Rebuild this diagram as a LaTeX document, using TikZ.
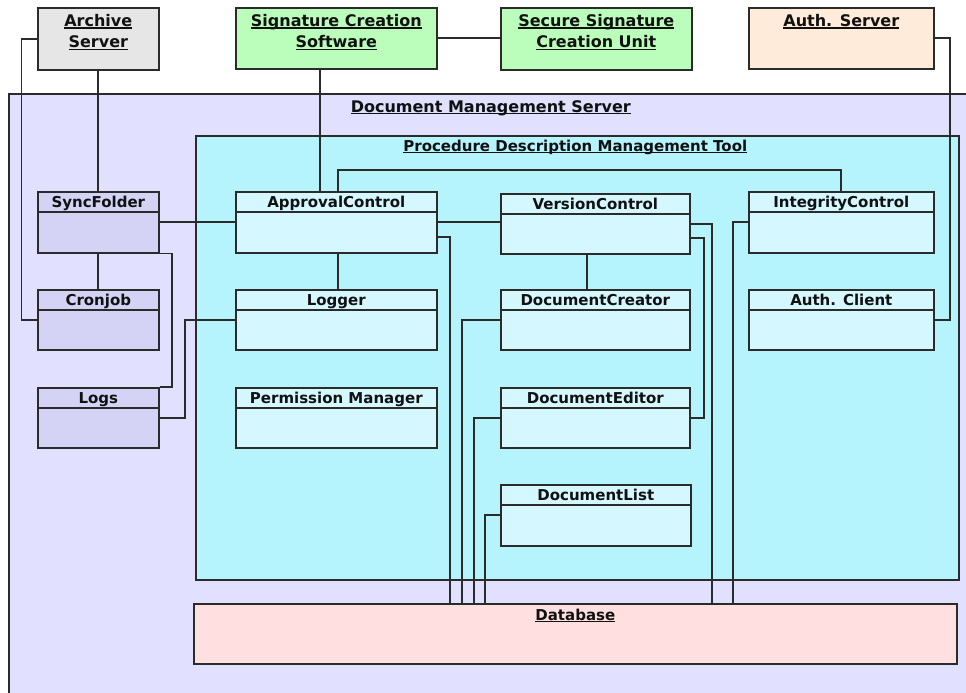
\documentclass[tikz,border=0pt]{standalone}
\usepackage{fontspec}
\setmainfont{DejaVu Sans}
\usetikzlibrary{calc}

\definecolor{linec}{HTML}{2B2B2B}
\definecolor{textc}{HTML}{111111}
\definecolor{archfill}{HTML}{E6E6E6}
\definecolor{greenfill}{HTML}{BBFEBB}
\definecolor{authfill}{HTML}{FFEBD9}
\definecolor{dmsfill}{HTML}{E1E0FF}
\definecolor{pdmtfill}{HTML}{B5F3FD}
\definecolor{innerfill}{HTML}{D5F7FF}
\definecolor{dmsclass}{HTML}{D5D3F5}
\definecolor{dbfill}{HTML}{FFDFDF}

% underline drawn at a fixed depth below the baseline
\newsavebox\ulbox
\newcommand\uln[1]{\sbox\ulbox{#1}\rlap{\rule[-2.3pt]{\wd\ulbox}{1.3pt}}\usebox\ulbox}

\tikzset{
  box/.style={draw=linec, line width=1.6pt, inner sep=0pt, anchor=north west},
  boxline/.style={draw=linec, line width=1.6pt},
  conn/.style={draw=linec, line width=1.7pt},
  cltitle/.style={anchor=base, inner sep=0pt, text=textc,
    font=\fontsize{15}{18}\selectfont\bfseries},
  srvtitle/.style={anchor=north, inner sep=0pt, text=textc, align=center,
    font=\fontsize{16}{21.5}\selectfont\bfseries},
  contitle/.style={anchor=base, inner sep=0pt, text=textc,
    font=\fontsize{16}{19}\selectfont\bfseries},
}

% class box: name, x, y, width, height, fill, title
\newcommand\classbox[7]{%
  \node[box, fill=#6, minimum width=#4pt, minimum height=#5pt] (#1) at (#2,#3) {};
  \draw[boxline] ([yshift=-21pt]#1.north west) -- ([yshift=-21pt]#1.north east);
  \node[cltitle] (#1-t) at ([yshift=-16pt]#1.north) {#7};
}

\begin{document}
\begin{tikzpicture}[x=1pt,y=-1pt]
\useasboundingbox (0,0) rectangle (966,693);

% external servers
\node[box, fill=archfill, minimum width=121pt, minimum height=62pt] (arch) at (37,7) {};
\node[srvtitle] (arch-t) at ([yshift=-7pt]arch.north) {\uln{Archive}\\\uln{Server}};
\node[box, fill=greenfill, minimum width=201pt, minimum height=61pt] (sigsw) at (235,7) {};
\node[srvtitle] (sigsw-t) at ([yshift=-7pt]sigsw.north) {\uln{Signature Creation}\\\uln{Software}};
\node[box, fill=greenfill, minimum width=191pt, minimum height=62pt] (ssu) at (500,7) {};
\node[srvtitle] (ssu-t) at ([yshift=-7pt]ssu.north) {\uln{Secure Signature}\\\uln{Creation Unit}};
\node[box, fill=authfill, minimum width=185pt, minimum height=61pt] (auth) at (748,7) {};
\node[srvtitle] (auth-t) at ([yshift=-7pt]auth.north) {\uln{Auth. Server}};

% document management server and its contents
\node[box, fill=dmsfill, minimum width=964pt, minimum height=640pt] (dms) at (8,93) {};
\node[contitle] (dms-t) at ([yshift=-19pt]dms.north) {\uln{Document Management Server}};

\node[box, fill=pdmtfill, minimum width=763pt, minimum height=444pt] (pdmt) at (195,135) {};
\node[contitle, font=\fontsize{15}{18}\selectfont\bfseries] (pdmt-t) at ([xshift=-2pt,yshift=-16pt]pdmt.north) {\uln{Procedure Description Management Tool}};

\node[box, fill=dbfill, minimum width=763pt, minimum height=60pt] (db) at (193,603) {};
\node[contitle, font=\fontsize{15}{18}\selectfont\bfseries] (db-t) at ([yshift=-17pt]db.north) {\uln{Database}};

\classbox{sync}{37}{191}{121}{61}{dmsclass}{SyncFolder}
\classbox{cron}{37}{289}{121}{60}{dmsclass}{Cronjob}
\classbox{logs}{37}{387}{121}{60}{dmsclass}{Logs}

\classbox{appr}{235}{191}{201}{61}{innerfill}{ApprovalControl}
\classbox{logger}{235}{289}{201}{60}{innerfill}{Logger}
\classbox{perm}{235}{387}{201}{60}{innerfill}{Permission Manager}

\classbox{ver}{500}{193}{189}{60}{innerfill}{VersionControl}
\classbox{creator}{500}{289}{189}{60}{innerfill}{DocumentCreator}
\classbox{editor}{500}{387}{189}{60}{innerfill}{DocumentEditor}
\classbox{dlist}{500}{484}{190}{61}{innerfill}{DocumentList}

\classbox{integ}{748}{191}{185}{61}{innerfill}{IntegrityControl}
\classbox{aclient}{748}{289}{185}{60}{innerfill}{Auth. Client}

% connectors
\draw[conn] (arch.west) -- ++(-15.5,0) |- (cron.west);
\draw[conn] (arch.south) -- (sync.north);
\draw[conn] ([xshift=-16.5pt]sigsw.south) -- ([xshift=-16.5pt]sigsw.south |- appr.north);
\draw[conn] (sigsw.east) -- (sigsw.east -| ssu.west);
\draw[conn] (auth.east) -- ++(15.5,0) |- (aclient.east);

\draw[conn] (sync.east) -- (appr.west);
\draw[conn] (sync.south east) -- ++(12.5,0) |- (logs.north east);
\draw[conn] (sync.south) -- (cron.north);
\draw[conn] (logs.east) -- ++(25.5,0) |- (logger.west);

\draw[conn] ([xshift=1.5pt]appr.south) -- ([xshift=1.5pt]appr.south |- logger.north);
\draw[conn] ([xshift=1.5pt]appr.north) -- ++(0,-21) -| (integ.north);
\draw[conn] (appr.east) -- (appr.east -| ver.west);
\draw[conn] ([yshift=-15pt]appr.east) -| ([xshift=257pt]db.north west);

\draw[conn] (ver.east) -| ([xshift=519pt]db.north west);
\draw[conn] ([yshift=-14pt]ver.east) -- ++(13.5,0) |- (editor.east);
\draw[conn] ([xshift=-8.5pt]ver.south) -- ([xshift=-8.5pt]ver.south |- creator.north);

\draw[conn] (creator.west) -| ([xshift=269pt]db.north west);
\draw[conn] (editor.west) -| ([xshift=281pt]db.north west);
\draw[conn] (dlist.west) -| ([xshift=292pt]db.north west);
\draw[conn] (integ.west) -| ([xshift=540pt]db.north west);
\end{tikzpicture}
\end{document}
